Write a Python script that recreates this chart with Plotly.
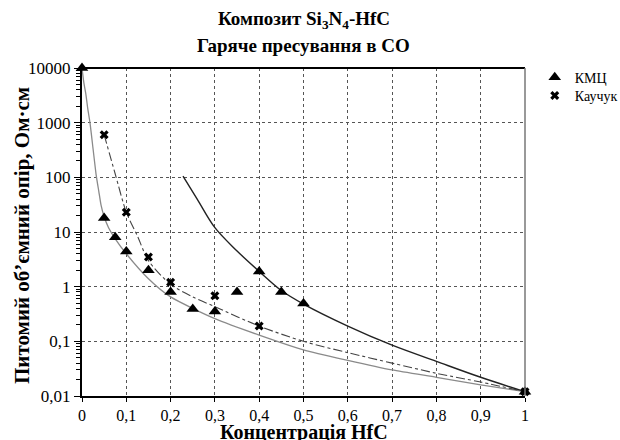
import plotly.graph_objects as go

# ---- data ----
kmc_x = [0, 0.05, 0.075, 0.1, 0.15, 0.2, 0.25, 0.3, 0.35, 0.4, 0.45, 0.5, 1.0]
kmc_y = [10000, 18, 8, 4.4, 2.0, 0.8, 0.39, 0.35, 0.8, 1.9, 0.8, 0.49, 0.012]

rubber_x = [0.05, 0.1, 0.15, 0.2, 0.3, 0.4, 1.0]
rubber_y = [600, 23, 3.5, 1.2, 0.68, 0.19, 0.012]

fit_low_x = [0, 0.004, 0.009, 0.013, 0.018, 0.025, 0.032, 0.038, 0.043, 0.05, 0.06, 0.075, 0.1,
             0.15, 0.2, 0.3, 0.4, 0.5, 0.6, 0.7, 0.8, 0.9, 1.0]
fit_low_y = [10000, 5500, 3200, 1800, 1000, 330, 110, 55, 31, 19, 12, 7.5, 4.0,
             1.4, 0.65, 0.26, 0.13, 0.07, 0.045, 0.03, 0.022, 0.016, 0.012]

fit_rub_x = [0.05, 0.075, 0.1, 0.125, 0.15, 0.2, 0.25, 0.3, 0.4, 0.5, 0.6, 0.7, 0.8, 0.9, 1.0]
fit_rub_y = [600, 115, 23, 8.5, 3.0, 1.1, 0.65, 0.43, 0.19, 0.1, 0.062, 0.04, 0.026, 0.018, 0.012]

fit_high_x = [0.228, 0.26, 0.3, 0.35, 0.4, 0.45, 0.5, 0.6, 0.7, 0.8, 0.9, 1.0]
fit_high_y = [105, 40, 12, 4.5, 1.9, 0.85, 0.48, 0.19, 0.085, 0.043, 0.022, 0.012]

x_ticks = [0, 0.1, 0.2, 0.3, 0.4, 0.5, 0.6, 0.7, 0.8, 0.9, 1]
x_labels = ["0", "0,1", "0,2", "0,3", "0,4", "0,5", "0,6", "0,7", "0,8", "0,9", "1"]
y_ticks = [0.01, 0.1, 1, 10, 100, 1000, 10000]
y_labels = ["0,01", "0,1", "1", "10", "100", "1000", "10000"]
y_minor = [d * 10 ** e for e in range(-2, 4) for d in range(2, 10)]

SERIF = "Liberation Serif"

fig = go.Figure()
fig.add_trace(go.Scatter(x=fit_low_x, y=fit_low_y, mode="lines",
                         line=dict(color="#8a8a8a", width=1.3, shape="spline", smoothing=0.6),
                         showlegend=False, hoverinfo="skip"))
fig.add_trace(go.Scatter(x=fit_rub_x, y=fit_rub_y, mode="lines",
                         line=dict(color="#444444", width=1.1, dash="dashdot", shape="spline", smoothing=0.8),
                         showlegend=False, hoverinfo="skip"))
fig.add_trace(go.Scatter(x=fit_high_x, y=fit_high_y, mode="lines",
                         line=dict(color="#222222", width=1.4, shape="spline", smoothing=1.0),
                         showlegend=False, hoverinfo="skip"))
fig.add_trace(go.Scatter(x=kmc_x, y=kmc_y, mode="markers", name="КМЦ", cliponaxis=False,
                         marker=dict(symbol="triangle-up", size=11, color="black"), legend="legend"))
fig.add_trace(go.Scatter(x=rubber_x, y=rubber_y, mode="markers", name="Каучук", cliponaxis=False,
                         marker=dict(symbol="x", size=8, color="black"), legend="legend2"))

grid = dict(showgrid=True, gridcolor="#555555", griddash="dot", gridwidth=1)

fig.update_xaxes(range=[0, 1], tickvals=x_ticks, ticktext=x_labels,
                 ticks="outside", ticklen=4, tickcolor="black",
                 showline=True, linecolor="black", linewidth=2, zeroline=False,
                 tickfont=dict(family=SERIF, size=16, color="black"), **grid)
fig.update_yaxes(type="log", range=[-2, 4], tickvals=y_ticks, ticktext=y_labels,
                 ticks="outside", ticklen=6, tickcolor="black",
                 minor=dict(tickvals=y_minor, ticks="outside", ticklen=4, tickcolor="black", showgrid=False),
                 showline=True, linecolor="black", linewidth=2, zeroline=False,
                 tickfont=dict(family=SERIF, size=17, color="black"), **grid)

# top and right borders
fig.add_shape(type="line", xref="paper", yref="paper", x0=0, x1=1, y0=1, y1=1,
              line=dict(color="black", width=2))
fig.add_shape(type="line", xref="paper", yref="paper", x0=1, x1=1, y0=0, y1=1,
              line=dict(color="#777777", width=1.5))

fig.add_annotation(text="<b>Композит Si<sub>3</sub>N<sub>4</sub>-HfC</b>", xref="paper", yref="paper",
                   x=0.5, y=1, yshift=48, showarrow=False, yanchor="middle",
                   font=dict(family=SERIF, size=19, color="black"))
fig.add_annotation(text="<b>Гаряче пресування в СО</b>", xref="paper", yref="paper",
                   x=0.5, y=1, yshift=23, showarrow=False, yanchor="middle",
                   font=dict(family=SERIF, size=19, color="black"))
fig.add_annotation(text="<b>Концентрація HfC</b>", xref="paper", yref="paper",
                   x=0.5, y=0, yshift=-36, showarrow=False, yanchor="middle",
                   font=dict(family=SERIF, size=20, color="black"))
fig.add_annotation(text="<b>Питомий об’ємний опір, Ом·см</b>", xref="paper", yref="paper",
                   x=0, xshift=-60, y=0.5, yshift=-4, showarrow=False, textangle=-90, xanchor="center",
                   font=dict(family=SERIF, size=21, color="black"))

leg_common = dict(xanchor="left", yanchor="top", orientation="h",
                  entrywidth=60, entrywidthmode="pixels", itemwidth=30,
                  font=dict(family=SERIF, size=14, color="black"),
                  bgcolor="rgba(0,0,0,0)", tracegroupgap=0)

fig.update_layout(
    width=620, height=440,
    margin=dict(l=82, r=95, t=68, b=44, autoexpand=False),
    paper_bgcolor="white", plot_bgcolor="white",
    legend=dict(x=1.022, y=1.019, **leg_common),
    legend2=dict(x=1.022, y=0.964, **leg_common),
    font=dict(family=SERIF, color="black"),
)

fig.write_html("out.html")
